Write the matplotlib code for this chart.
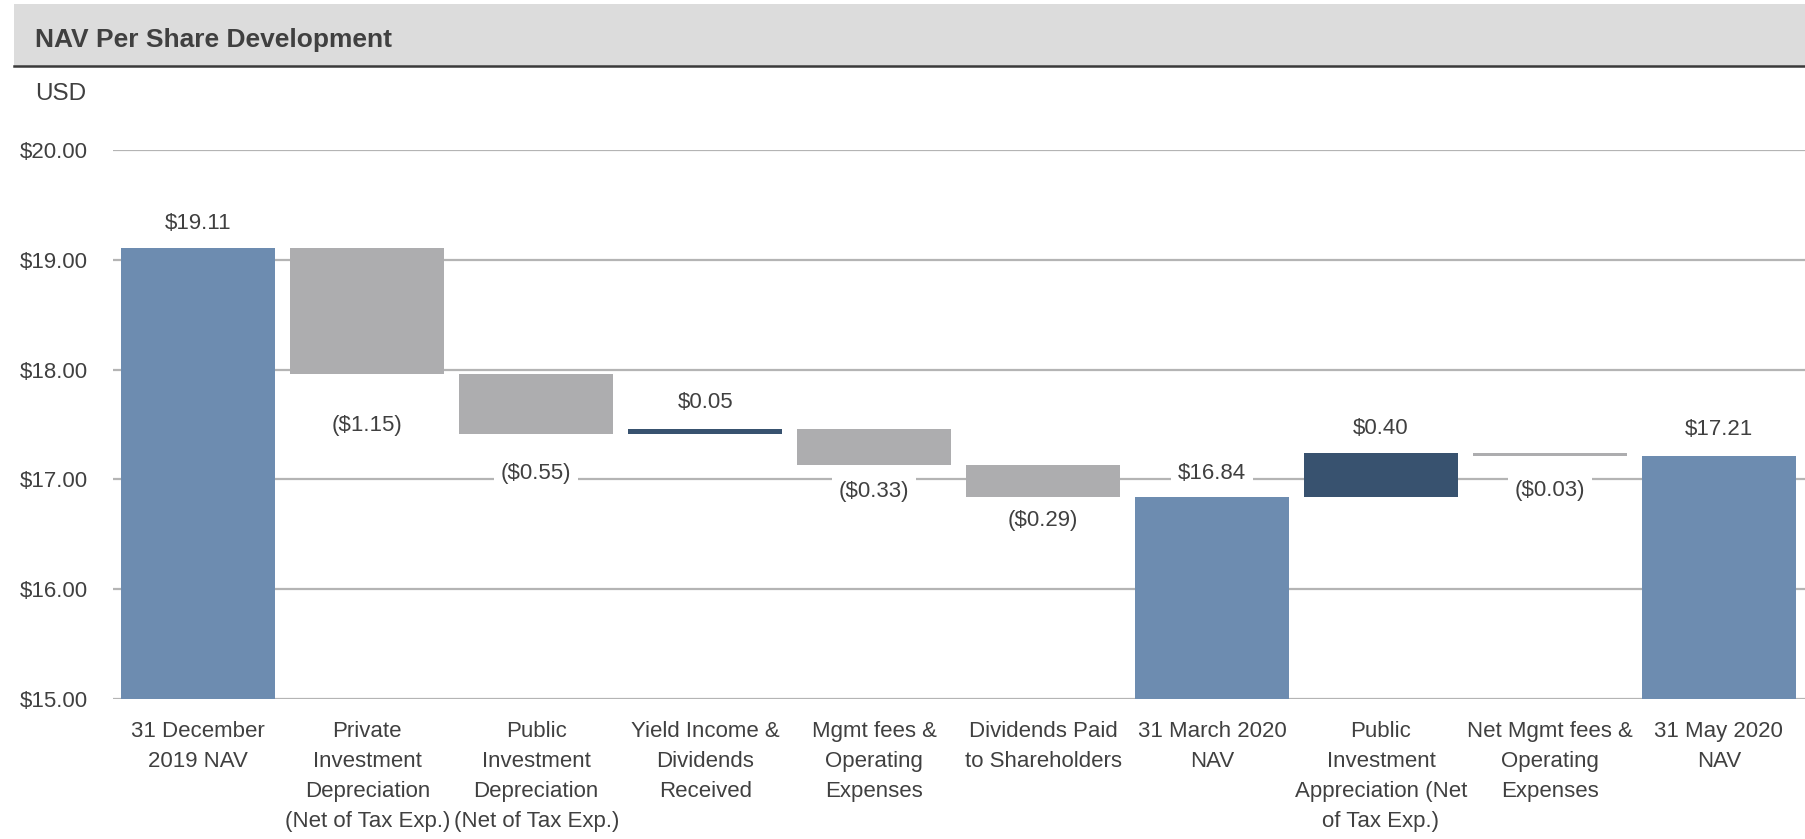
import matplotlib
matplotlib.use("Agg")
import matplotlib.pyplot as plt
from matplotlib.patches import Rectangle
from matplotlib.lines import Line2D

plt.rcParams["font.family"] = ["Liberation Sans Narrow", "Liberation Sans", "DejaVu Sans"]

# data
categories = [
    "31 December\n2019 NAV",
    "Private\nInvestment\nDepreciation\n(Net of Tax Exp.)",
    "Public\nInvestment\nDepreciation\n(Net of Tax Exp.)",
    "Yield Income &\nDividends\nReceived",
    "Mgmt fees &\nOperating\nExpenses",
    "Dividends Paid\nto Shareholders",
    "31 March 2020\nNAV",
    "Public\nInvestment\nAppreciation (Net\nof Tax Exp.)",
    "Net Mgmt fees &\nOperating\nExpenses",
    "31 May 2020\nNAV",
]
values = [19.11, -1.15, -0.55, 0.05, -0.33, -0.29, 16.84, 0.40, -0.03, 17.21]
is_total = [True, False, False, False, False, False, True, False, False, True]
value_labels = ["$19.11", "($1.15)", "($0.55)", "$0.05", "($0.33)", "($0.29)",
                "$16.84", "$0.40", "($0.03)", "$17.21"]
yticks = [15, 16, 17, 18, 19, 20]

# layout: distance of the value label from the bar end (data units)
label_gap = [0.22, 0.465, 0.355, 0.24, 0.243, 0.215, 0.215, 0.22, 0.313, 0.24]

c_total = "#6D8CB0"
c_down = "#ADADAF"
c_up = "#38526F"
c_text = "#404040"

fig = plt.figure(figsize=(18.05, 8.39), dpi=100)

# title bar
fig.patches.append(Rectangle((14 / 1805, 1 - 66 / 839), 1, 62 / 839,
                             transform=fig.transFigure, facecolor="#DCDCDC",
                             edgecolor="none", zorder=0))
fig.lines.append(Line2D([14 / 1805, 1], [1 - 66 / 839, 1 - 66 / 839],
                        transform=fig.transFigure, color="#3A3A3A", lw=1.8))
fig.text(35 / 1805, 1 - 40 / 839, "NAV Per Share Development", fontsize=19,
         fontweight="bold", color=c_text, va="center", ha="left")
fig.text(35 / 1805, 1 - 94 / 839, "USD", fontsize=17.5, color=c_text,
         va="center", ha="left")

ax = fig.add_axes([113 / 1805, 1 - 699 / 839, (1805 - 113) / 1805, (699 - 150) / 839])

running = 0.0
for i, v in enumerate(values):
    if is_total[i]:
        bottom, height, color = 0, v, c_total
        running = v
        y_lab = v + label_gap[i]
    else:
        bottom, height = running, v
        color = c_up if v > 0 else c_down
        if v > 0:
            y_lab = running + v + label_gap[i]
        else:
            y_lab = running + v - label_gap[i]
        running += v
    ax.bar(i, height, bottom=bottom, width=0.91, color=color, zorder=2)
    ax.text(i, y_lab, value_labels[i], ha="center", va="center", fontsize=16,
            color=c_text, zorder=3,
            bbox=dict(facecolor="white", edgecolor="none", pad=5))

ax.set_xlim(-0.505, 9.51)
ax.set_ylim(15, 20)
ax.set_yticks(yticks)
ax.set_yticklabels(["${:.2f}".format(t) for t in yticks])
ax.yaxis.grid(True, color="#B4B4B4", lw=1.6)
ax.set_axisbelow(True)
ax.set_xticks(range(len(categories)))
ax.set_xticklabels(categories, linespacing=1.56)
ax.tick_params(axis="both", length=0, labelsize=16, colors=c_text)
ax.tick_params(axis="y", pad=18)
ax.tick_params(axis="x", pad=16)
for s in ax.spines.values():
    s.set_visible(False)

fig.savefig("out.png", dpi=100)
